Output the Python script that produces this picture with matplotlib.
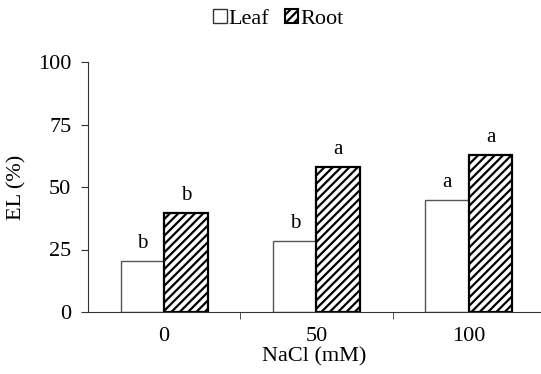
import matplotlib.pyplot as plt
from matplotlib.patches import Patch
import numpy as np

plt.rcParams['font.family'] = ['Liberation Serif', 'DejaVu Serif']
plt.rcParams['hatch.linewidth'] = 1.6

# data
nacl = ["0", "50", "100"]
leaf = [20.4, 28.4, 44.8]
root = [39.8, 58.0, 62.8]
leaf_sig = ["b", "b", "a"]
root_sig = ["b", "a", "a"]

fig = plt.figure(figsize=(5.41, 3.74), dpi=100)
ax = fig.add_axes([88 / 541, 62 / 374, 453 / 541, 250 / 374])

x = np.arange(len(nacl))
w = 0.285
ax.bar(x - w / 2, leaf, w, color='white', edgecolor='#555555', linewidth=1.0)
ax.bar(x + w / 2, root, w, color='white', edgecolor='black', hatch='////', linewidth=1.6)

for xi, v, s in zip(x, leaf, leaf_sig):
    ax.text(xi - w / 2, v + 3.2, s, ha='center', va='bottom', fontsize=15)
for xi, v, s in zip(x, root, root_sig):
    ax.text(xi + w / 2, v + 3.2, s, ha='center', va='bottom', fontsize=15)

ax.set_ylim(0, 100)
ax.set_yticks([0, 25, 50, 75, 100])
ax.set_xlim(-0.5, -0.5 + 453 / 152.3)
ax.set_xticks(x)
ax.set_xticklabels(nacl)
ax.set_xticks([0.5, 1.5], minor=True)
ax.tick_params(axis='x', which='major', length=0, pad=11, labelsize=16)
ax.tick_params(axis='x', which='minor', length=5, color='#333333')
ax.tick_params(axis='y', length=5, color='#333333', labelsize=16, pad=7)

for side in ['top', 'right']:
    ax.spines[side].set_visible(False)
for side in ['left', 'bottom']:
    ax.spines[side].set_color('#333333')

ax.set_xlabel("NaCl (mM)", fontsize=16, labelpad=1)
ax.set_ylabel("EL (%)", fontsize=16, labelpad=8)

handles = [Patch(facecolor='white', edgecolor='#333333', linewidth=1.0, label='Leaf'),
           Patch(facecolor='white', edgecolor='black', hatch='////', linewidth=1.5, label='Root')]
fig.legend(handles=handles, loc='upper center', bbox_to_anchor=(0.515, 1.03), ncol=2,
           frameon=False, fontsize=16, handlelength=0.6, handleheight=0.6,
           handletextpad=0.1, columnspacing=0.7)

fig.savefig("out.png", dpi=100)
